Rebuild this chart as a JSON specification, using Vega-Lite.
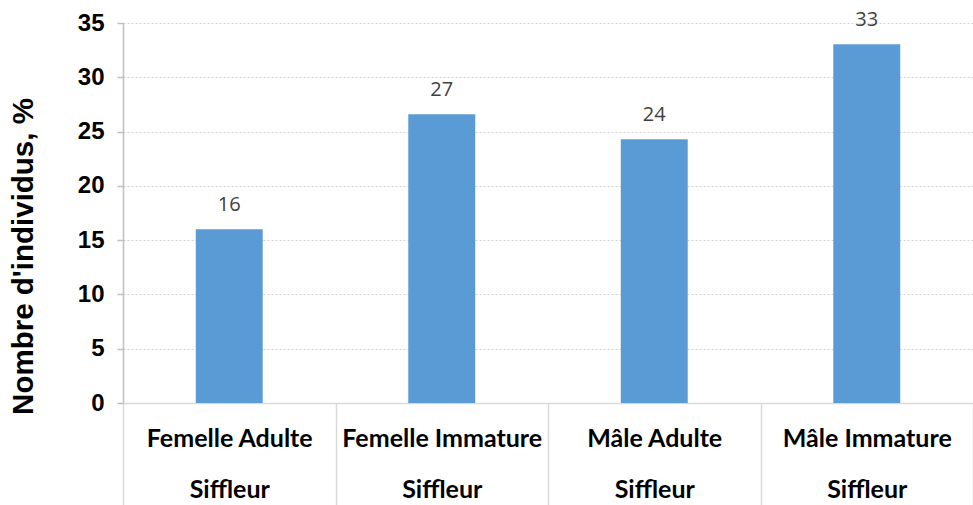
{
  "$schema": "https://vega.github.io/schema/vega-lite/v6.json",
  "width": 850,
  "height": 380,
  "autosize": {"type": "none"},
  "padding": {"left": 123, "top": 23, "right": 0, "bottom": 102},
  "background": "white",
  "data": {
    "values": [
      {"categorie": "Femelle Adulte|Siffleur", "pourcentage": 16.0},
      {"categorie": "Femelle Immature|Siffleur", "pourcentage": 26.6},
      {"categorie": "Mâle Adulte|Siffleur", "pourcentage": 24.3},
      {"categorie": "Mâle Immature|Siffleur", "pourcentage": 33.05}
    ]
  },
  "encoding": {
    "x": {
      "field": "categorie",
      "type": "nominal",
      "sort": null,
      "scale": {"paddingInner": 0, "paddingOuter": 0},
      "axis": {
        "title": null,
        "labelAngle": 0,
        "labelExpr": "split(datum.label, '|')",
        "labelFont": "Lato",
        "labelFontWeight": "bold",
        "labelFontSize": 25,
        "labelLimit": 400,
        "labelColor": "#000000",
        "labelBaseline": "alphabetic",
        "labelLineHeight": 51,
        "labelPadding": -59,
        "tickBand": "extent",
        "tickSize": 102,
        "tickColor": "#D9D9D9",
        "tickWidth": 1.5,
        "domainColor": "#D9D9D9",
        "domainWidth": 1.5,
        "grid": false
      }
    },
    "y": {
      "field": "pourcentage",
      "type": "quantitative",
      "scale": {"domain": [0, 35], "nice": false},
      "axis": {
        "title": "Nombre d'individus, %",
        "titleFont": "Liberation Sans",
        "titleFontWeight": "bold",
        "titleFontSize": 29.5,
        "titleColor": "#000000",
        "titleX": -91,
        "titleY": 233,
        "titleAngle": -90,
        "titleAlign": "center",
        "titleBaseline": "alphabetic",
        "values": [0, 5, 10, 15, 20, 25, 30, 35],
        "labelFont": "Liberation Sans",
        "labelFontWeight": "bold",
        "labelFontSize": 24,
        "labelColor": "#000000",
        "labelPadding": 13,
        "tickSize": 6,
        "tickColor": "#BFBFBF",
        "tickWidth": 1.5,
        "domainColor": "#BFBFBF",
        "domainWidth": 1.5,
        "grid": true,
        "gridColor": "#D0D0D0",
        "gridDash": [2, 2],
        "gridWidth": 1
      }
    }
  },
  "layer": [
    {
      "mark": {"type": "bar", "color": "#5B9BD5", "width": {"band": 0.315}}
    },
    {
      "mark": {
        "type": "text",
        "dy": -18,
        "baseline": "alphabetic",
        "font": "Open Sans",
        "fontSize": 20,
        "color": "#404040"
      },
      "encoding": {
        "text": {"field": "pourcentage", "type": "quantitative", "format": ".0f"}
      }
    }
  ],
  "config": {"view": {"stroke": null}}
}
